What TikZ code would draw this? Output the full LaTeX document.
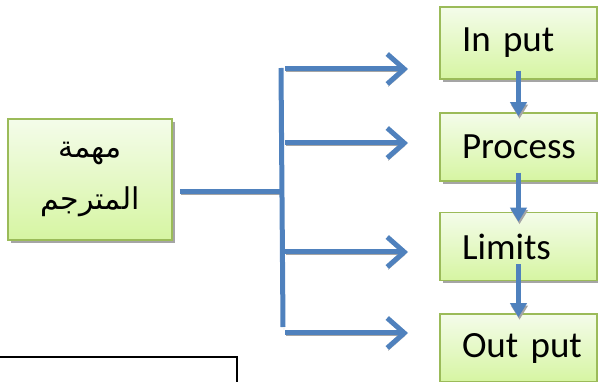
\documentclass[tikz,border=0pt]{standalone}
\usepackage{fontspec}
\setmainfont{Carlito}
\newfontfamily\arabicfont[Script=Arabic]{DejaVu Sans}
\TeXXeTstate=1
\usetikzlibrary{arrows.meta}
\definecolor{boxtop}{RGB}{244,252,234}
\definecolor{boxbottom}{RGB}{214,245,162}
\definecolor{boxline}{RGB}{155,187,89}
\definecolor{linkblue}{RGB}{79,129,189}
\definecolor{shadowgray}{RGB}{165,165,165}

\begin{document}
\begin{tikzpicture}[x=1pt,y=-1pt,
		greenbox/.style={draw=boxline,line width=1.5pt,top color=boxtop,bottom color=boxbottom,
			preaction={fill=shadowgray,transform canvas={shift={(2.5pt,-3pt)}}}},
		stagebox/.style={greenbox,minimum width=157pt,minimum height=68pt,text width=113pt,
			inner xsep=22pt,align=left,font=\fontsize{37}{40}\selectfont},
		taskbox/.style={greenbox,minimum width=164pt,minimum height=121pt,align=center,
			font=\arabicfont\fontsize{30}{52}\selectfont},
		link/.style={draw=linkblue,line width=5pt,
			preaction={draw=shadowgray,transform canvas={shift={(1pt,-2.5pt)}}}},
		branch/.style={link,-{Straight Barb[length=17pt,width=30pt]}},
		flow/.style={link,-{Triangle[length=14pt,width=16pt]},shorten <=-9pt,shorten >=-4pt}
		]
		\useasboundingbox (0,0) rectangle (598,382);
		\clip (0,0) rectangle (598,382);
		\node[taskbox] (task) at (90,179.5) {\beginR مهمة\endR\\\beginR المترجم\endR};
		\node[stagebox,minimum height=72pt] (input) at (518.5,43) {In~put};
		\node[stagebox] (process) at (518.5,147) {Process};
		\node[stagebox] (limits) at (518.5,246.5) {Limits};
		\node[stagebox] (output) at (518.5,348) {Out~put};
		\coordinate (bartop) at (281,68);
		\coordinate (barmid) at (282,192);
		\coordinate (barbot) at (283,327);
		\draw[link,shorten <=7pt] (task.east |- barmid) -- (barmid);
		\draw[link] (bartop) -- (barbot);
		\foreach \name/\y in {in/69,pro/143,lim/252,out/333}{
			\coordinate (\name start) at (285,\y);
			\coordinate (\name end) at (408,\y);
			\draw[branch] (\name start) -- (\name end);
		}
		\draw[flow] (input) -- (process);
		\draw[flow,shorten >=-10pt] (process) -- (limits);
		\draw[flow,shorten <=-17pt] (limits) -- (output);
		\draw[line width=1.3pt] (-2,357) rectangle (237,400);
	\end{tikzpicture}
\end{document}
